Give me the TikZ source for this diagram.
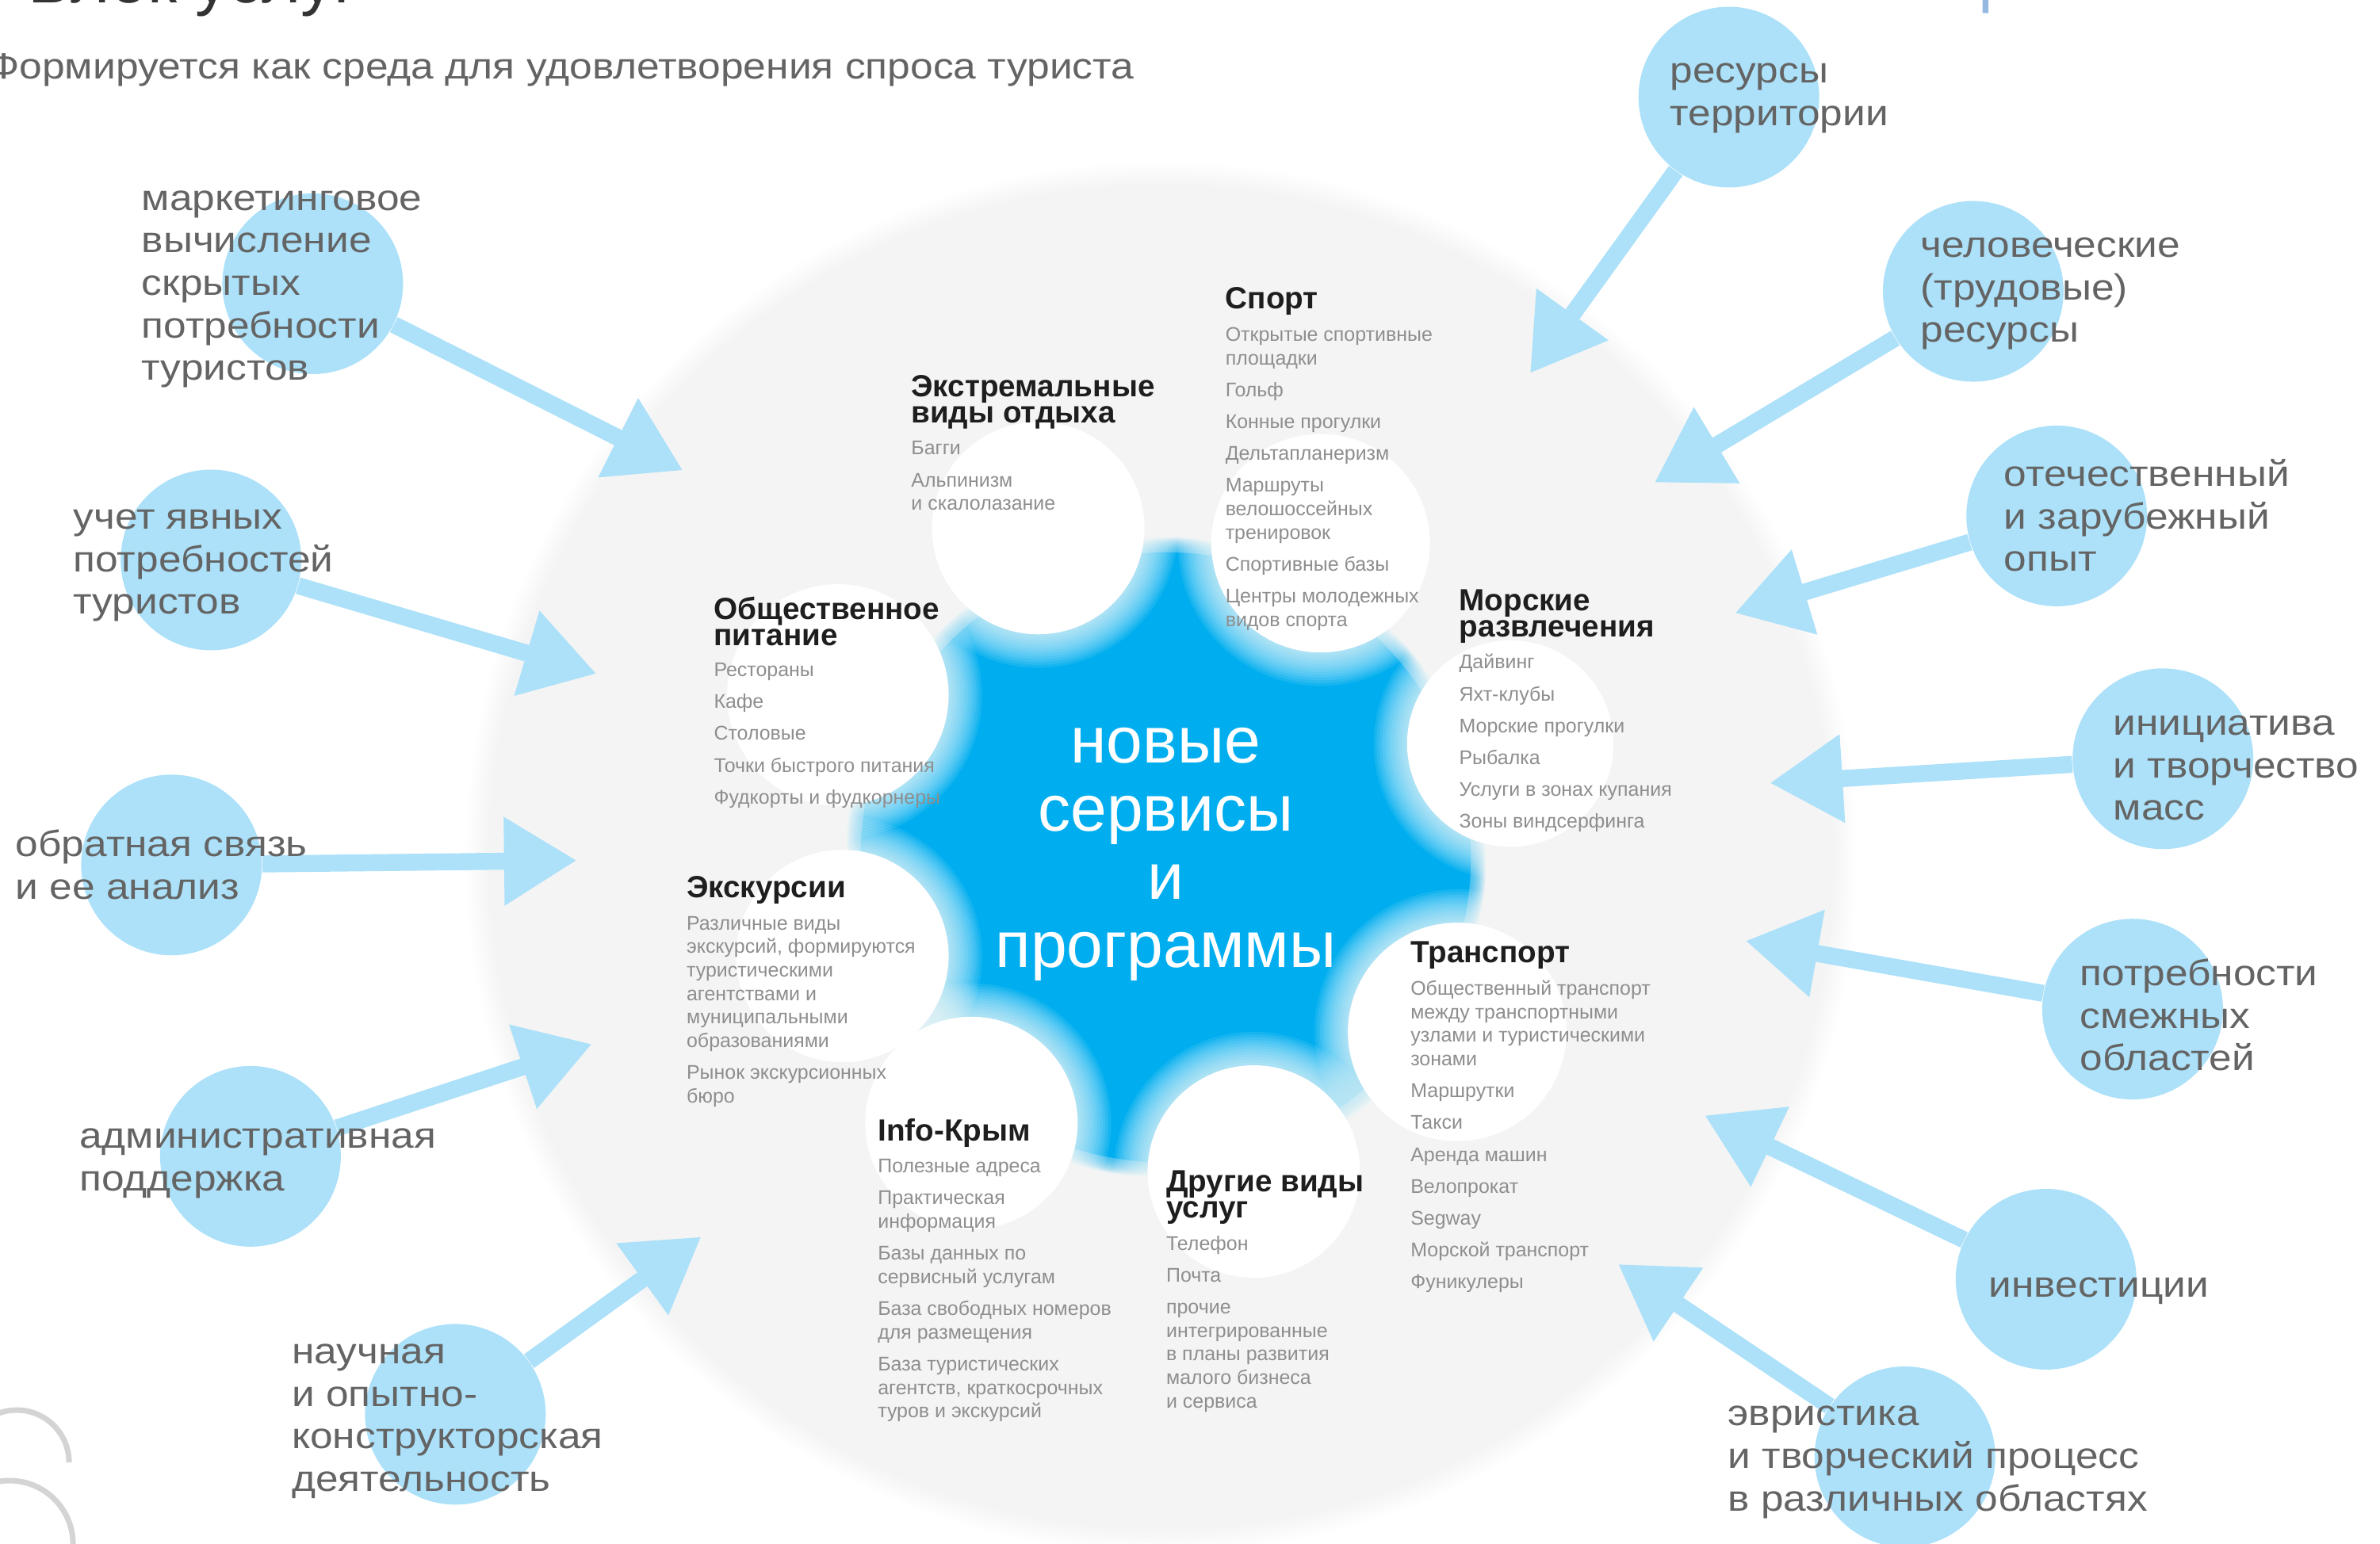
\documentclass[tikz,border=0pt]{standalone}
\usepackage{fontspec}
\usetikzlibrary{arrows.meta}
\newfontfamily\lf{Liberation Sans}
\newfontfamily\lfw{Liberation Sans}[FakeStretch=1.12]
\newfontfamily\hf{Liberation Sans}
\definecolor{lblue}{RGB}{172,225,249}
\definecolor{cblue}{RGB}{0,174,239}
\definecolor{bggray}{RGB}{244,244,244}
\definecolor{itemgray}{RGB}{142,142,142}
\definecolor{hdark}{RGB}{30,30,30}
\definecolor{lbltext}{RGB}{100,100,100}
\definecolor{arcgray}{RGB}{212,212,212}
\definecolor{fragblue}{RGB}{150,185,225}
\newcommand\softdisk[4]{%
  \fill[#3] (#1) circle[radius=#2-#4/2];
  \foreach \k in {1,...,12}{\fill[#3,opacity=0.09] (#1) circle[radius=#2-#4/2+\k*#4/12];}%
}
\tikzset{
  lbl/.style={anchor=west, align=left, inner sep=0pt, text=lbltext,
    font=\lfw\fontsize{13.07pt}{15.25pt}\selectfont},
  hd/.style={anchor=north west, align=left, inner sep=0pt, text=hdark,
    font=\hf\bfseries\fontsize{11pt}{9.5pt}\selectfont},
  items/.style={anchor=north west, align=left, inner sep=0pt, text=itemgray,
    font=\lf\fontsize{7.1pt}{8.44pt}\selectfont},
  bub/.style={circle, fill=lblue, minimum size=2.28cm, inner sep=0pt},
  arr/.style={draw=lblue, line width=0.214cm, -{Triangle[length=0.917cm,width=1.06cm]}},
}
\begin{document}
\begin{tikzpicture}[x=0.019145cm,y=-0.019145cm]
\useasboundingbox (0,0) rectangle (1568,1017);
\fill[white] (0,0) rectangle (1568,1017);
% background disk and star
\softdisk{765,565}{449}{bggray}{18}
\softdisk{768,565}{206}{cblue}{10}
\softdisk{684,348}{81}{white}{22}
\softdisk{870,358}{83}{white}{22}
\softdisk{552,458}{84}{white}{22}
\softdisk{995,490}{79}{white}{22}
\softdisk{555,630}{81}{white}{22}
\softdisk{960,680}{83}{white}{22}
\softdisk{640,740}{81}{white}{22}
\softdisk{826,772}{81}{white}{22}
% corner arcs
\draw[arcgray, line width=0.07cm] (11,963.7) ++(-34.5,0) arc[start angle=180, end angle=360, radius=34.5];
\draw[arcgray, line width=0.07cm] (6.3,1017.5) ++(-41.8,0) arc[start angle=180, end angle=360, radius=41.8];
% title and subtitle
\node[anchor=base west, inner sep=0pt, text=black!80, font=\lf\fontsize{24pt}{28pt}\selectfont] (title) at (18,2) {Блок услуг};
\node[anchor=base west, inner sep=0pt, text=fragblue, font=\lf\fontsize{24pt}{28pt}\selectfont] (frag) at (1303,0) {р};
\node[anchor=west, inner sep=0pt, text=lbltext, font=\lfw\fontsize{13.1pt}{16pt}\selectfont] (sub) at (-8,46) {\strut Формируется как среда для удовлетворения спроса туриста};
% bubbles
\node[bub] (bRes) at (1139,64) {};
\node[bub] (bHum) at (1300,192) {};
\node[bub] (bOpy) at (1355,340) {};
\node[bub] (bIni) at (1425,500) {};
\node[bub] (bPot) at (1405,665) {};
\node[bub] (bInv) at (1348,843) {};
\node[bub] (bEvr) at (1255,960) {};
\node[bub] (bMar) at (206,187) {};
\node[bub] (bUch) at (139,369) {};
\node[bub] (bObr) at (113,570) {};
\node[bub] (bAdm) at (165,762) {};
\node[bub] (bNau) at (300,932) {};
% arrow tips
\coordinate (pRes) at (1008,246);
\coordinate (pHum) at (1090,318);
\coordinate (pOpy) at (1143,404);
\coordinate (pIni) at (1166,516);
\coordinate (pPot) at (1150,620);
\coordinate (pInv) at (1123,735);
\coordinate (pEvr) at (1066,833);
\coordinate (pMar) at (450,310);
\coordinate (pUch) at (393,444);
\coordinate (pObr) at (380,567);
\coordinate (pAdm) at (390,688);
\coordinate (pNau) at (462,815);
\foreach \n in {Res,Hum,Opy,Ini,Pot,Inv,Evr,Mar,Uch,Obr,Adm,Nau}{\draw[arr] (b\n) -- (p\n);}
% bubble labels
\node[lbl] (tRes) at (1100,63) {\strut ресурсы\\территории\strut};
\node[lbl] (tHum) at (1265,192) {\strut человеческие\\(трудовые)\\ресурсы\strut};
\node[lbl] (tOpy) at (1320,343) {\strut отечественный\\и зарубежный\\опыт\strut};
\node[lbl] (tIni) at (1392,507) {\strut инициатива\\и творчество\\масс\strut};
\node[lbl] (tPot) at (1370,672) {\strut потребности\\смежных\\областей\strut};
\node[lbl] (tInv) at (1310,849) {\strut инвестиции\strut};
\node[lbl] (tEvr) at (1138,962) {\strut эвристика\\и творческий процесс\\в различных областях\strut};
\node[lbl] (tMar) at (93,189) {\strut маркетинговое\\вычисление\\скрытых\\потребности\\туристов\strut};
\node[lbl] (tUch) at (48,371) {\strut учет явных\\потребностей\\туристов\strut};
\node[lbl] (tObr) at (10,573) {\strut обратная связь\\и ее анализ\strut};
\node[lbl] (tAdm) at (52,765) {\strut административная\\поддержка\strut};
\node[lbl] (tNau) at (192,935) {\strut научная\\и опытно-\\конструкторская\\деятельность\strut};
% centre
\node[align=center, inner sep=0pt, text=white, font=\lf\fontsize{23.4pt}{24.5pt}\selectfont] (centre) at (768,563) {новые\\сервисы\\и\\программы};
% categories
\node[hd] (hExt) at (600,247) {\strut Экстремальные\\виды отдыха};
\node[items] (iExt) at (600,288.6) {\strut Багги\\[3pt]Альпинизм\\и скалолазание};
\node[hd] (hSpo) at (807,189) {\strut Спорт};
\node[items] (iSpo) at (807,213.6) {\strut Открытые спортивные\\площадки\\[3pt]Гольф\\[3pt]Конные прогулки\\[3pt]Дельтапланеризм\\[3pt]Маршруты\\велошоссейных\\тренировок\\[3pt]Спортивные базы\\[3pt]Центры молодежных\\видов спорта};
\node[hd] (hPit) at (470,393) {\strut Общественное\\питание};
\node[items] (iPit) at (470,434.6) {\strut Рестораны\\[3pt]Кафе\\[3pt]Столовые\\[3pt]Точки быстрого питания\\[3pt]Фудкорты и фудкорнеры};
\node[hd] (hMor) at (961,388) {\strut Морские\\развлечения};
\node[items] (iMor) at (961,429.6) {\strut Дайвинг\\[3pt]Яхт-клубы\\[3pt]Морские прогулки\\[3pt]Рыбалка\\[3pt]Услуги в зонах купания\\[3pt]Зоны виндсерфинга};
\node[hd] (hExc) at (452,577) {\strut Экскурсии};
\node[items] (iExc) at (452,601.6) {\strut Различные виды\\экскурсий, формируются\\туристическими\\агентствами и\\муниципальными\\образованиями\\[3pt]Рынок экскурсионных\\бюро};
\node[hd] (hTra) at (929,620) {\strut Транспорт};
\node[items] (iTra) at (929,644.6) {\strut Общественный транспорт\\между транспортными\\узлами и туристическими\\зонами\\[3pt]Маршрутки\\[3pt]Такси\\[3pt]Аренда машин\\[3pt]Велопрокат\\[3pt]Segway\\[3pt]Морской транспорт\\[3pt]Фуникулеры};
\node[hd] (hInf) at (578,737) {\strut Info-Крым};
\node[items] (iInf) at (578,761.6) {\strut Полезные адреса\\[3pt]Практическая\\информация\\[3pt]Базы данных по\\сервисный услугам\\[3pt]База свободных номеров\\для размещения\\[3pt]База туристических\\агентств, краткосрочных\\туров и экскурсий};
\node[hd] (hOth) at (768,771) {\strut Другие виды\\услуг};
\node[items] (iOth) at (768,812.6) {\strut Телефон\\[3pt]Почта\\[3pt]прочие\\интегрированные\\в планы развития\\малого бизнеса\\и сервиса};
\end{tikzpicture}
\end{document}
